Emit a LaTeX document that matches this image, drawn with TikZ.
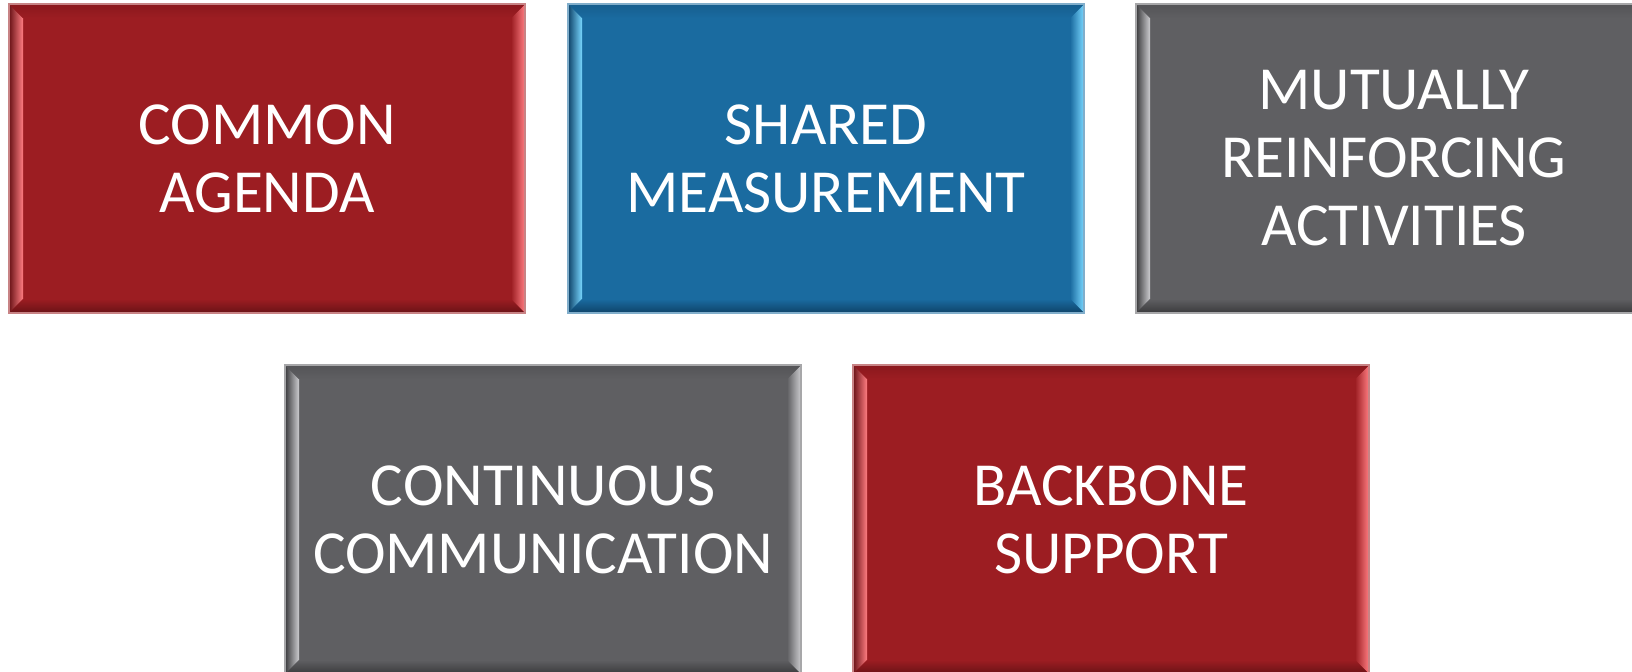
\documentclass[tikz,border=0pt]{standalone}
\usepackage{fontspec}
\setmainfont{Carlito}
\usepackage{tikz}

\definecolor{red}{RGB}{156,29,34}
\definecolor{reddark}{RGB}{105,18,22}
\definecolor{redlight}{RGB}{255,125,130}
\definecolor{redtop}{RGB}{138,24,29}
\definecolor{blue}{RGB}{26,107,160}
\definecolor{bluedark}{RGB}{14,66,104}
\definecolor{bluelight}{RGB}{120,215,255}
\definecolor{bluetop}{RGB}{22,94,142}
\definecolor{grey}{RGB}{95,95,98}
\definecolor{greydark}{RGB}{58,58,60}
\definecolor{greylight}{RGB}{205,205,208}
\definecolor{greytop}{RGB}{84,84,87}

\tikzset{boxtext/.style={text=white, align=center, font=\fontsize{30.6}{34}\selectfont}}

% name, left, top, colour, text
\newcommand{\bevelbox}[5]{%
    \begin{scope}[shift={(#2,#3)}]
        \fill[#4] (0,0) rectangle (516,309);
        \shade[left color=#4dark, right color=#4light] (0,0) -- (14,14) -- (14,295) -- (0,309) -- cycle;
        \shade[left color=#4, right color=#4light] (516,0) -- (502,14) -- (502,295) -- (516,309) -- cycle;
        \shade[top color=#4top, bottom color=#4] (0,0) -- (516,0) -- (502,14) -- (14,14) -- cycle;
        \shade[top color=#4, bottom color=#4dark] (0,309) -- (14,295) -- (502,295) -- (516,309) -- cycle;
        \draw[#4!55!white, line width=0.6pt] (0,0) rectangle (516,309);
        \node[boxtext] (#1) at (258,154.5) {#5};
    \end{scope}}

\begin{document}
\begin{tikzpicture}[x=0.5pt, y=-0.5pt]
        \useasboundingbox (0,0) rectangle (1632,671);
        \clip (0,0) rectangle (1632,671);
        \bevelbox{agenda}{9}{4}{red}{COMMON\\AGENDA}
        \bevelbox{measure}{568}{4}{blue}{SHARED\\MEASUREMENT}
        \bevelbox{activities}{1136}{4}{grey}{MUTUALLY\\REINFORCING\\ACTIVITIES}
        \bevelbox{communication}{285}{365}{grey}{CONTINUOUS\\COMMUNICATION}
        \bevelbox{backbone}{853}{365}{red}{BACKBONE\\SUPPORT}
    \end{tikzpicture}
\end{document}
